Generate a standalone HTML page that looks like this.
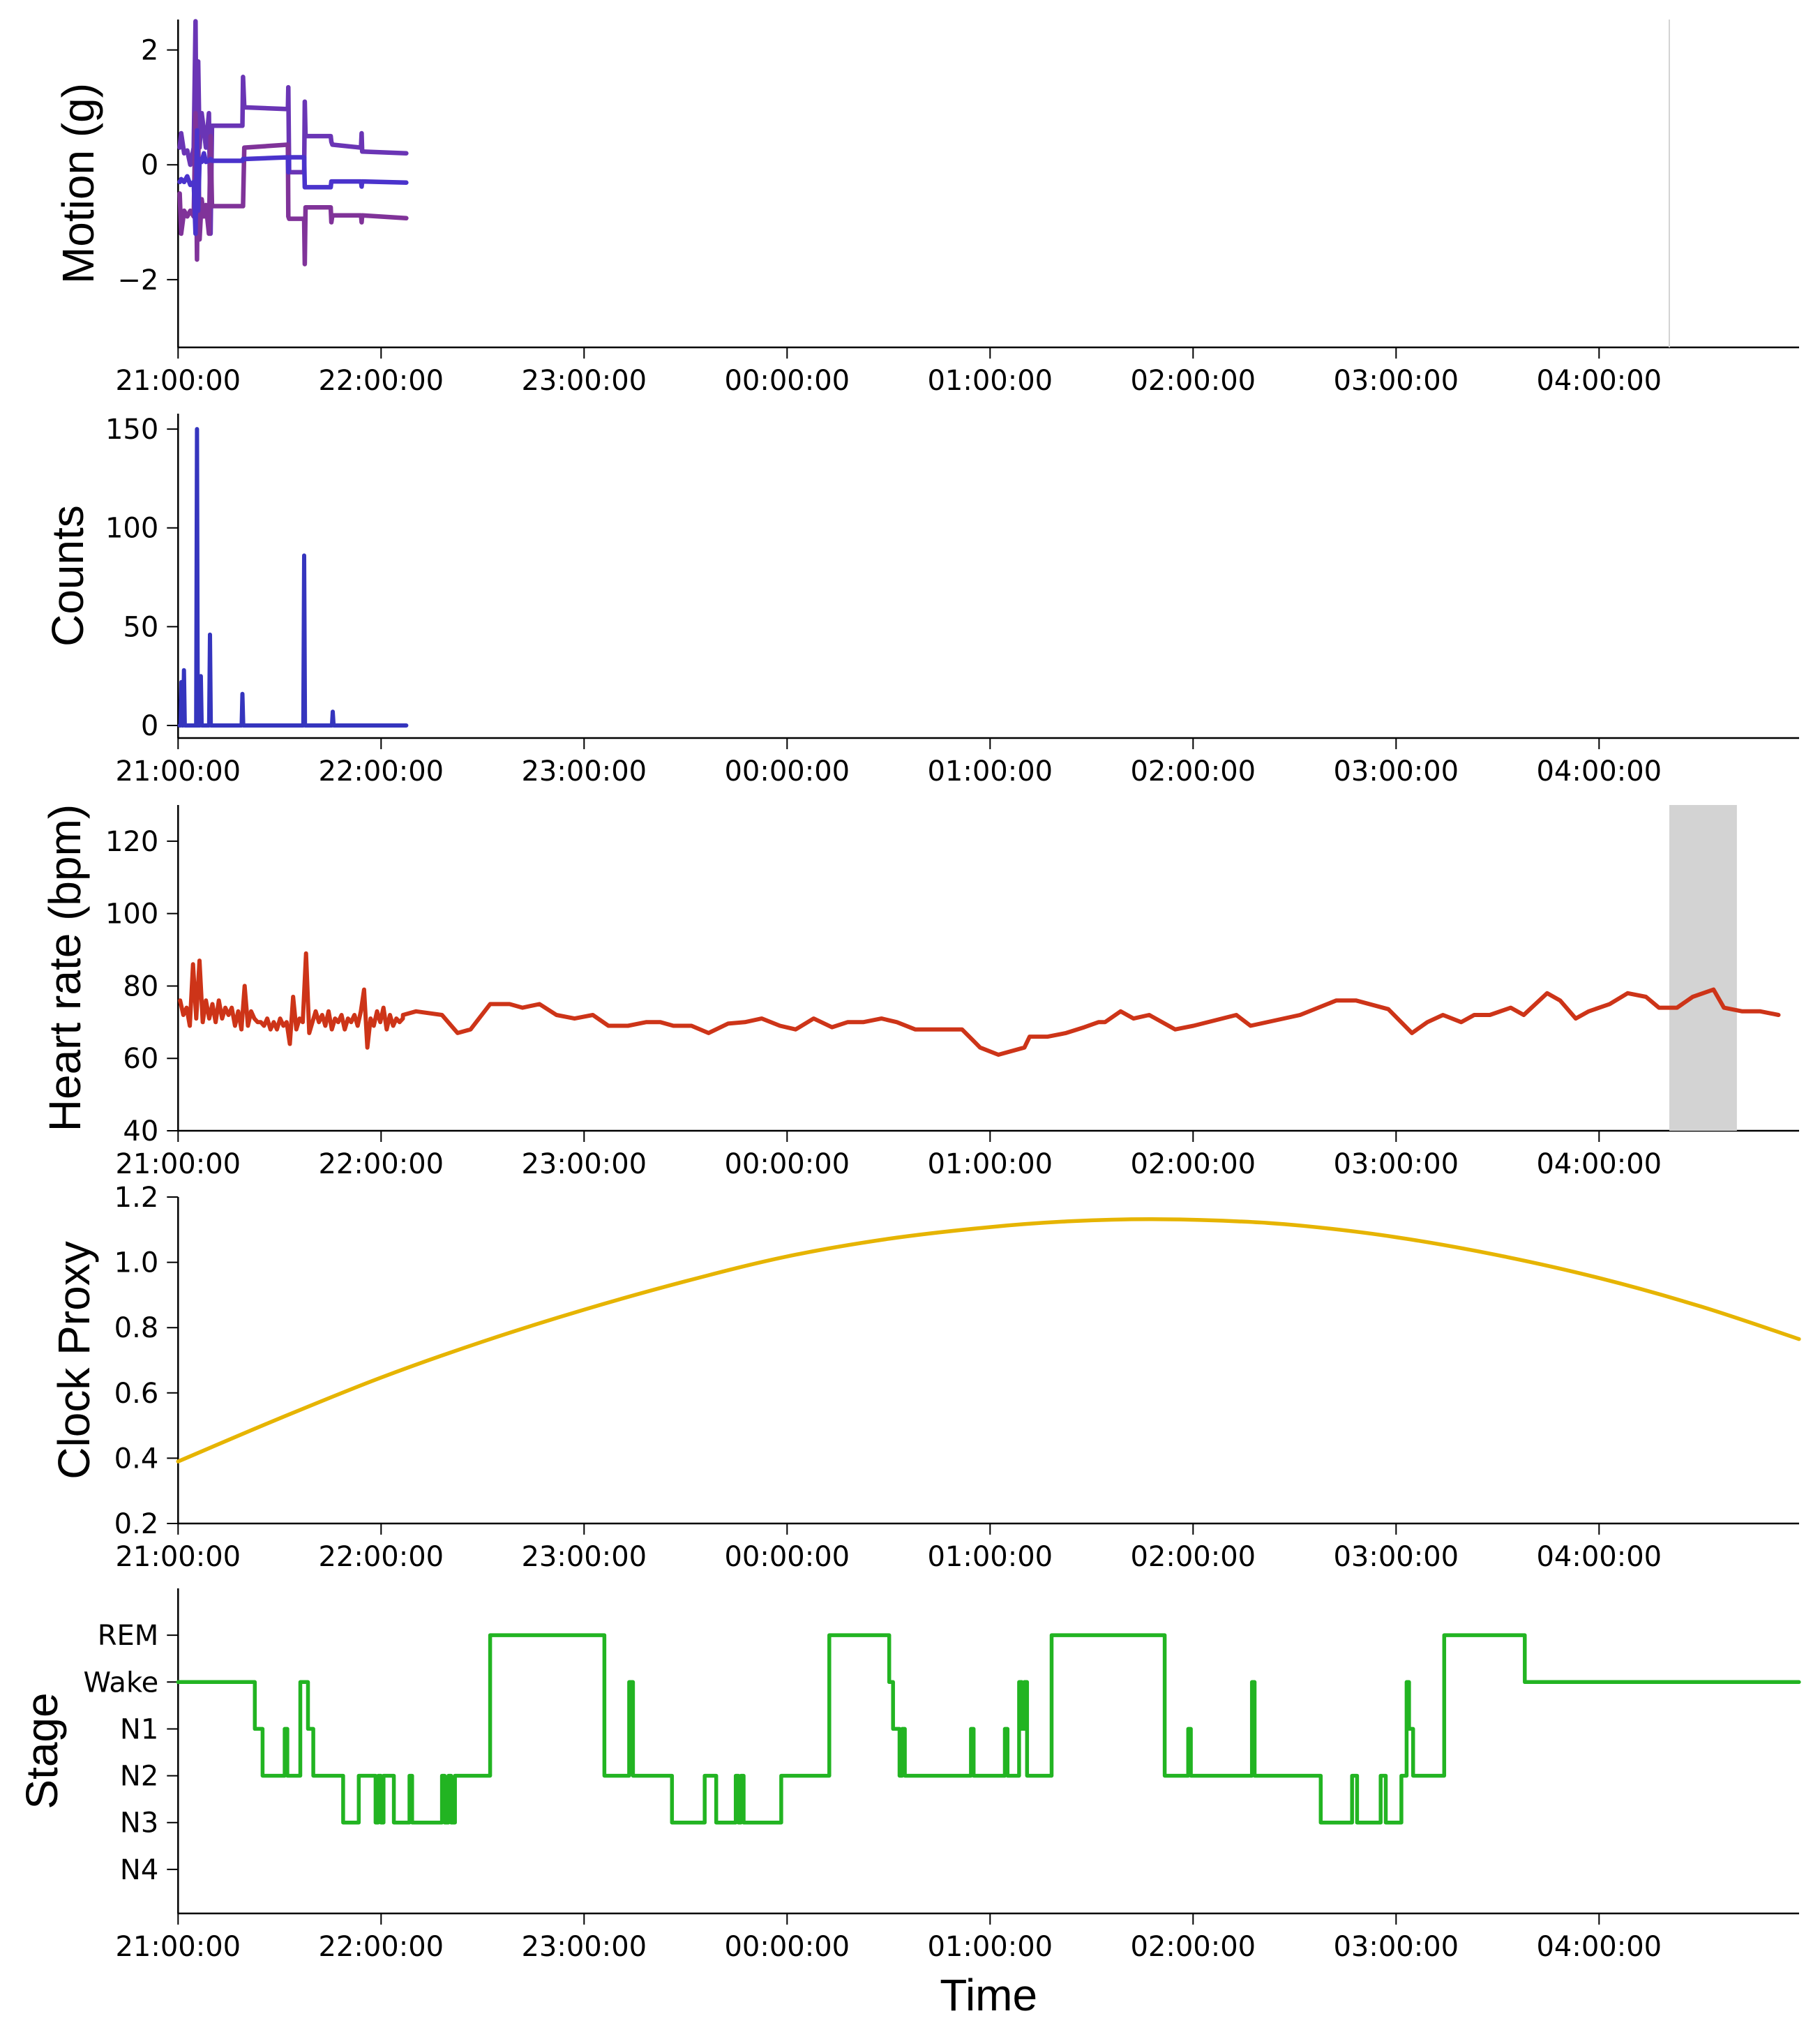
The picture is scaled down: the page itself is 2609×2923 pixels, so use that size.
<!DOCTYPE html>
<html><head><meta charset="utf-8"><style>
html,body{margin:0;padding:0;background:#fff;}
svg{display:block;}
text{font-family:"DejaVu Sans","Liberation Sans",sans-serif;fill:#000;}
.lab{font-family:"Liberation Sans",Arial,sans-serif;font-size:64px;}
</style></head><body>
<svg id="fig" width="2609" height="2923" viewBox="0 0 2609 2923" xmlns="http://www.w3.org/2000/svg"></svg>
<script>
// ---- data ----
const timeTickLabels = ["21:00:00","22:00:00","23:00:00","00:00:00","01:00:00","02:00:00","03:00:00","04:00:00"];
const motionTimes = [0.008,0.015,0.03,0.045,0.06,0.077,0.086,0.093,0.099,0.106,0.116,0.127,0.137,0.152,0.160,0.167,0.317,0.320,0.326,0.541,0.543,0.547,0.621,0.624,0.628,0.752,0.755,0.760,0.901,0.904,0.907,1.124];
const motionX = [0.3,0.55,0.2,0.25,0.0,0.3,2.5,-1.0,1.8,0.3,0.9,0.6,0.3,0.9,-1.2,0.68,0.68,1.53,1.0,0.97,1.35,-0.13,-0.13,1.1,0.5,0.5,0.4,0.35,0.30,0.55,0.23,0.2];
const motionY = [-0.3,-0.25,-0.3,-0.2,-0.35,-0.3,-1.2,0.6,-0.8,0.1,0.05,0.2,0.05,0.07,0.1,0.07,0.07,0.1,0.1,0.13,-0.13,0.13,0.13,-0.39,-0.39,-0.39,-0.29,-0.29,-0.29,-0.38,-0.29,-0.31];
const motionZ = [-0.5,-1.2,-0.8,-0.9,-0.8,-0.9,0.9,-1.65,0.5,-1.3,-0.6,-0.9,-0.7,-1.2,0.5,-0.72,-0.72,-0.72,0.3,0.35,-0.9,-0.94,-0.94,-1.73,-0.74,-0.74,-1.0,-0.88,-0.88,-1.0,-0.88,-0.93];
const motionTicks = [2,0,-2];
const offWristTime = 7.346;

const countTimes = [0.008,0.012,0.016,0.020,0.025,0.029,0.033,0.089,0.093,0.097,0.108,0.112,0.116,0.153,0.157,0.161,0.313,0.317,0.321,0.617,0.621,0.625,0.758,0.762,0.766,1.124];
const countValues = [0,0,22,0,0,28,0,0,150,0,0,25,0,0,46,0,0,16,0,0,86,0,0,7,0,0];
const countTicks = [0,50,100,150];

const hrNoisyStart = 0.01, hrNoisyStep = 0.0159;
const hrNoisyValues = [76,72,74,69,86,71,87,70,76,71,75,70,76,71,74,72,74,69,73,68,80,69,73,71,70,70,69,71,68,70,68,71,69,70,64,77,68,71,70,89,67,70,73,70,72,69,73,68,71,70,72,68,71,70,72,69,73,79,63,71,69,73,70,74,68,72,69,71,70,71];
const hrTimes = [1.108,1.172,1.300,1.377,1.441,1.537,1.633,1.697,1.780,1.864,1.953,2.043,2.120,2.216,2.305,2.376,2.440,2.529,2.613,2.709,2.792,2.875,2.965,3.042,3.131,3.221,3.298,3.375,3.465,3.541,3.631,3.734,3.862,3.951,4.041,4.169,4.195,4.284,4.374,4.464,4.534,4.566,4.643,4.707,4.784,4.912,5.002,5.213,5.283,5.527,5.706,5.802,5.962,6.078,6.154,6.231,6.321,6.385,6.462,6.565,6.629,6.744,6.808,6.885,6.949,7.052,7.141,7.231,7.295,7.384,7.461,7.564,7.615,7.705,7.794,7.884];
const hrValues = [72,73,72,67,68,75,75,74,75,72,71,72,69,69,70,70,69,69,67,69.6,70,71,69,68,71,68.6,70,70,71,70,68,68,68,63,61,63,66,66,67,68.6,70,70,73,71,72,68,69,72,69,72,76,76,73.6,67,70,72,70,72,72,74,72,78,76,71,73,75,78,77,74,74,77,79,74,73,73,72];
const hrTicks = [40,60,80,100,120];
const hrGapStart = 7.346, hrGapEnd = 7.679;

const clockTimes = [0,0.5,1,1.5,2,2.5,3,3.5,4,4.4,4.789,5.2,5.538,6,6.5,7,7.5,7.985];
const clockValues = [0.39,0.522,0.647,0.757,0.855,0.942,1.018,1.072,1.108,1.126,1.132,1.126,1.112,1.077,1.022,0.952,0.865,0.765];
const clockTicks = [0.2,0.4,0.6,0.8,1.0,1.2];

const stageTimes = [0,0.378,0.416,0.525,0.538,0.602,0.640,0.666,0.813,0.890,0.973,0.986,0.999,1.012,1.063,1.140,1.153,1.300,1.313,1.332,1.345,1.364,1.537,2.100,2.222,2.241,2.433,2.594,2.651,2.747,2.760,2.773,2.786,2.971,3.208,3.503,3.522,3.554,3.567,3.580,3.906,3.919,4.073,4.086,4.143,4.156,4.169,4.182,4.303,4.860,4.976,4.989,5.290,5.303,5.629,5.783,5.808,5.924,5.949,6.026,6.052,6.064,6.084,6.237,6.634,7.985];
const stageValues = [4,3,2,3,2,4,3,2,1,2,1,2,1,2,1,2,1,2,1,2,1,2,5,2,4,2,1,2,1,2,1,2,1,2,5,4,3,2,3,2,3,2,3,2,4,3,4,2,5,2,3,2,4,2,1,2,1,2,1,2,4,3,2,5,4,4];
const stageTickValues = [0,1,2,3,4,5];
const stageTickLabels = ["N4","N3","N2","N1","Wake","REM"];

// ---- layout ----
const svg = document.getElementById('fig');
const NS = 'http://www.w3.org/2000/svg';
const X0 = 255.3, PXH = 291, XRIGHT = 2579;
function xs(t){ return X0 + t*PXH; }
function mk(tag, attrs, parent){
  const e = document.createElementNS(NS, tag);
  for (const k in attrs) e.setAttribute(k, attrs[k]);
  (parent||svg).appendChild(e);
  return e;
}
const panels = [
  {key:'motion', top:28, bottom:498, ymin:-3.18, ymax:2.53, label:'Motion (g)', lx:112},
  {key:'counts', top:593, bottom:1058, ymin:-6.35, ymax:157.8, label:'Counts', lx:97},
  {key:'heart-rate', top:1154, bottom:1621, ymin:40, ymax:130, label:'Heart rate (bpm)', lx:93},
  {key:'clock-proxy', top:1716, bottom:2184, ymin:0.2, ymax:1.2, label:'Clock Proxy', lx:106},
  {key:'stage', top:2277, bottom:2743, ymin:-0.94, ymax:6.0, label:'Stage', lx:60}
];
function ys(p){ return v => p.bottom - (v-p.ymin)/(p.ymax-p.ymin)*(p.bottom-p.top); }
function linePath(ts, vs, y){ return ts.map((t,i)=>(i?'L':'M')+xs(t).toFixed(1)+','+y(vs[i]).toFixed(1)).join(''); }

function drawAxes(p, ticks, tickLabels){
  const g = mk('g', {});
  
  
  const y = ys(p);
  const ly = mk('line', {x1:X0, y1:p.top, x2:X0, y2:p.bottom, stroke:'#000', 'stroke-width':2.5}, g);
  
  
  const lx = mk('line', {x1:X0-1, y1:p.bottom, x2:XRIGHT, y2:p.bottom, stroke:'#000', 'stroke-width':2.5}, g);
  
  
  timeTickLabels.forEach((lab,i)=>{
    const x = xs(i);
    mk('line', {x1:x, y1:p.bottom, x2:x, y2:p.bottom+16, stroke:'#000', 'stroke-width':2}, g);
    const t = mk('text', {x:x, y:p.bottom+61, 'text-anchor':'middle', 'font-size':40}, g);
    t.textContent = lab;
    
    
  });
  ticks.forEach((v,i)=>{
    const yy = y(v);
    mk('line', {x1:X0-16, y1:yy, x2:X0, y2:yy, stroke:'#000', 'stroke-width':2}, g);
    const t = mk('text', {x:X0-28, y:yy+14, 'text-anchor':'end', 'font-size':40}, g);
    t.textContent = tickLabels[i];
    
    
  });
  const cy = (p.top+p.bottom)/2;
  const lab = mk('text', {x:p.lx, y:cy, 'text-anchor':'middle', 'dominant-baseline':'central', class:'lab', transform:'rotate(-90 '+p.lx+' '+cy+')'}, g);
  lab.textContent = p.label;
  
  
  return y;
}
function series(d, color, name, w){
  const e = mk('path', {d:d, fill:'none', stroke:color, 'stroke-width':w||5.5, 'stroke-linejoin':'round', 'stroke-linecap':'round'});
  
  
  return e;
}

// Panel 1: motion
{
  const p = panels[0];
  const y = drawAxes(p, motionTicks, motionTicks.map(v=>v<0?'\u2212'+(-v):String(v)));
  const vl = mk('line', {x1:xs(offWristTime), y1:p.top, x2:xs(offWristTime), y2:p.bottom, stroke:'#d3d3d3', 'stroke-width':2});
  
  
  series(linePath(motionTimes, motionX, y), '#6a35b5', 'motion-x-line', 6.5);
  series(linePath(motionTimes, motionZ, y), '#803399', 'motion-z-line', 6.5);
  series(linePath(motionTimes, motionY, y), '#4a33cc', 'motion-y-line', 6.5);
}
// Panel 2: counts
{
  const p = panels[1];
  const y = drawAxes(p, countTicks, countTicks.map(String));
  series(linePath(countTimes, countValues, y), '#3535be', 'counts-line', 6);
}
// Panel 3: heart rate
{
  const p = panels[2];
  const y = drawAxes(p, hrTicks, hrTicks.map(String));
  const r = mk('rect', {x:xs(hrGapStart), y:p.top, width:xs(hrGapEnd)-xs(hrGapStart), height:p.bottom-p.top, fill:'#d3d3d3'});
  
  
  const ts = hrNoisyValues.map((v,i)=>hrNoisyStart+i*hrNoisyStep).concat(hrTimes);
  const vs = hrNoisyValues.concat(hrValues);
  series(linePath(ts, vs, y), '#cd3418', 'heart-rate-line', 6);
}
// Panel 4: clock proxy (Catmull-Rom smoothed through read points)
{
  const p = panels[3];
  const y = drawAxes(p, clockTicks, clockTicks.map(v=>v.toFixed(1)));
  const P = clockTimes.map((t,i)=>[xs(t), y(clockValues[i])]);
  let d = 'M'+P[0][0]+','+P[0][1];
  for (let i=0;i<P.length-1;i++){
    const p0=P[Math.max(0,i-1)], p1=P[i], p2=P[i+1], p3=P[Math.min(P.length-1,i+2)];
    const c1=[p1[0]+(p2[0]-p0[0])/6, p1[1]+(p2[1]-p0[1])/6];
    const c2=[p2[0]-(p3[0]-p1[0])/6, p2[1]-(p3[1]-p1[1])/6];
    d += 'C'+c1[0].toFixed(1)+','+c1[1].toFixed(1)+' '+c2[0].toFixed(1)+','+c2[1].toFixed(1)+' '+p2[0].toFixed(1)+','+p2[1].toFixed(1);
  }
  series(d, '#e6b400', 'clock-proxy-line');
}
// Panel 5: stage
{
  const p = panels[4];
  const y = drawAxes(p, stageTickValues, stageTickLabels);
  let d = '';
  stageTimes.forEach((t,i)=>{
    const x = xs(t).toFixed(1), yy = y(stageValues[i]).toFixed(1);
    if (i===0) d += 'M'+x+','+yy;
    else d += 'L'+x+','+y(stageValues[i-1]).toFixed(1)+'L'+x+','+yy;
  });
  series(d, '#22b422', 'hypnogram-line');
  const tl = mk('text', {x:(X0+XRIGHT)/2, y:2882, 'text-anchor':'middle', class:'lab'});
  tl.textContent = 'Time';
  
  
}
</script>
</body></html>
